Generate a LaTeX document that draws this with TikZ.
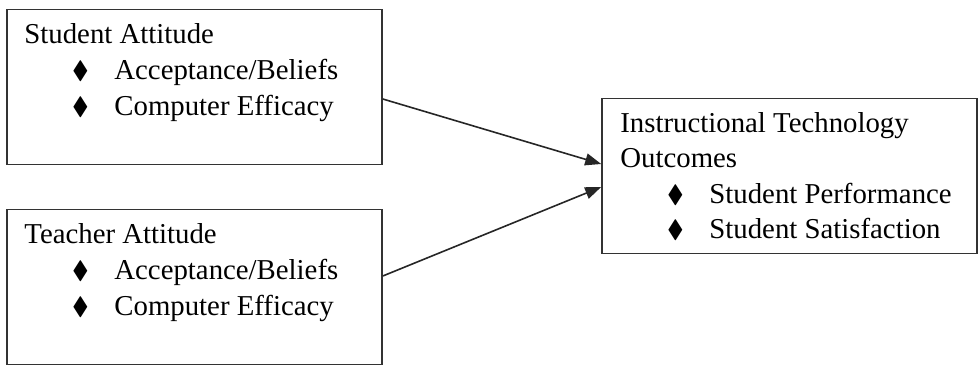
\documentclass[tikz,border=0pt]{standalone}
\usepackage{fontspec}
\usepackage{amssymb}
\setmainfont{Liberation Serif}
\usetikzlibrary{arrows.meta,calc,positioning}

\newcommand{\bul}{\makebox[28pt][c]{\fontsize{25}{25}\selectfont\raisebox{1.5pt}{$\blacklozenge$}}\hspace{20pt}}

\begin{document}
\begin{tikzpicture}[
    x=1pt, y=-1pt,
    box/.style={draw=black!80, line width=1.6pt, rectangle, minimum width=375pt, minimum height=155pt, inner sep=0pt},
    line/.style={anchor=base west, inner sep=0pt, font=\fontsize{28.8}{34}\selectfont},
    link/.style={-{Triangle[length=16pt,width=12pt]}, line width=1.6pt, draw=black!85},
]

\useasboundingbox (0,0) rectangle (979,370);

% Boxes
\node[box] (student) at (194.5, 87) {};
\node[box] (teacher) at (194.5, 287) {};
\node[box] (outcomes) at (789.5, 176) {};

% Student attitude
\node[line] (studenthead) at ([shift={(18pt,-35pt)}]student.north west) {Student Attitude};
\node[line] (studentA) at ([shift={(60pt,-71pt)}]student.north west) {\bul Acceptance/Beliefs};
\node[line] (studentB) at ([shift={(60pt,-107pt)}]student.north west) {\bul Computer Efficacy};

% Teacher attitude
\node[line] (teacherhead) at ([shift={(18pt,-35pt)}]teacher.north west) {Teacher Attitude};
\node[line] (teacherA) at ([shift={(60pt,-71pt)}]teacher.north west) {\bul Acceptance/Beliefs};
\node[line] (teacherB) at ([shift={(60pt,-107pt)}]teacher.north west) {\bul Computer Efficacy};

% Outcomes
\node[line] (outcomeshead) at ([shift={(19pt,-35pt)}]outcomes.north west) {Instructional Technology};
\node[line] (outcomeshead2) at ([shift={(19pt,-70pt)}]outcomes.north west) {Outcomes};
\node[line] (outcomesA) at ([shift={(60pt,-106pt)}]outcomes.north west) {\bul Student Performance};
\node[line] (outcomesB) at ([shift={(60pt,-141pt)}]outcomes.north west) {\bul Student Satisfaction};

% Links
\draw[link] ([yshift=-12pt]student.east) -- ([yshift=12pt]outcomes.west);
\draw[link] ([yshift=11pt]teacher.east) -- ([yshift=-11pt]outcomes.west);

\end{tikzpicture}
\end{document}
